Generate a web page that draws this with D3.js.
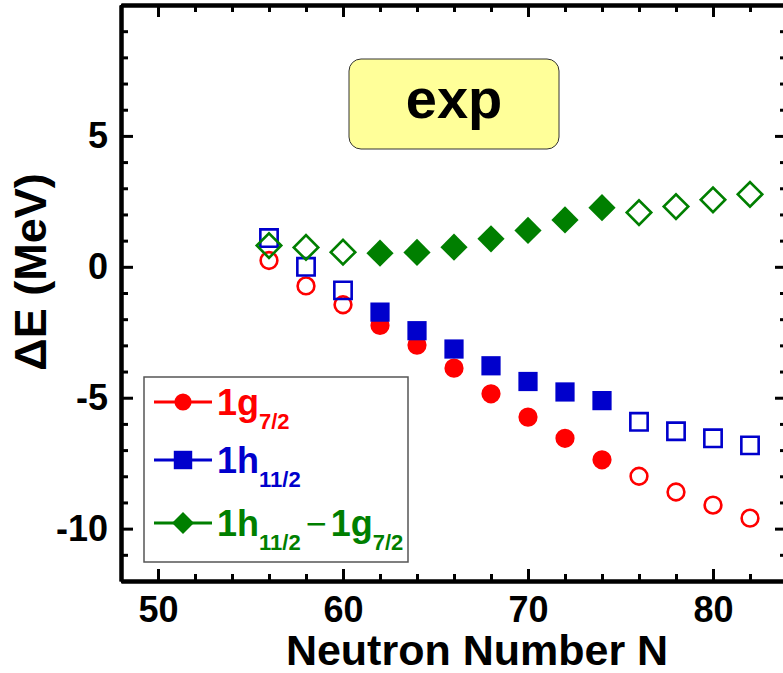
<!DOCTYPE html>
<html>
<head>
<meta charset="utf-8">
<script src="https://cdn.jsdelivr.net/npm/d3@7"></script>
<style>
  body { margin: 0; background: #fff; }
  text { font-family: "Liberation Sans", Arial, sans-serif; font-weight: bold; }
</style>
</head>
<body>
<svg width="783" height="673"></svg>
<script>
// neutron numbers and level energies (MeV)
var neutrons = [56, 58, 60, 62, 64, 66, 68, 70, 72, 74, 76, 78, 80, 82];
var g72  = [0.24, -0.73, -1.45, -2.24, -2.99, -3.87, -4.85, -5.74, -6.55, -7.37, -8.0, -8.6, -9.1, -9.6];
var h112 = [1.1, 0.0, -0.9, -1.73, -2.44, -3.14, -3.78, -4.38, -4.78, -5.11, -5.92, -6.28, -6.55, -6.82];
var diff = [0.81, 0.74, 0.56, 0.52, 0.55, 0.75, 1.07, 1.39, 1.79, 2.26, 2.07, 2.3, 2.56, 2.77];
// measured points are filled, others open
var filled = [false, false, false, true, true, true, true, true, true, true, false, false, false, false];

var xMajor = [50, 60, 70, 80];
var xMinor = [48, 52, 54, 56, 58, 62, 64, 66, 68, 72, 74, 76, 78, 82, 84];
var yMajor = [-10, -5, 0, 5];
var yMinor = [-12, -11, -9, -8, -7, -6, -4, -3, -2, -1, 1, 2, 3, 4, 6, 7, 8, 9, 10];

var svg = d3.select("svg");
var pLeft = 121, pRight = 787, pTop = 5, pBottom = 581;

var x = d3.scaleLinear().domain([48, 84]).range([pLeft, pRight]);
var y = d3.scaleLinear().domain([-12, 10]).range([pBottom, pTop]);

function fmt(d) { return String(d); }

function styleAxis(sel, showLabels) {
    sel.select(".domain").attr("stroke-width", 4).attr("stroke", "#000");
    sel.selectAll(".tick line").attr("stroke-width", 3).attr("stroke", "#000");
    sel.selectAll(".tick text")
       .attr("font-size", "36px")
       .attr("fill", "#000")
       .style("display", showLabels ? null : "none");
}

// bottom
svg.append("g").attr("transform", "translate(0," + pBottom + ")")
   .call(d3.axisBottom(x).tickValues(xMajor).tickSize(-12).tickSizeOuter(0).tickPadding(15).tickFormat(fmt))
   .call(styleAxis, true);
svg.append("g").attr("transform", "translate(0," + pBottom + ")")
   .call(d3.axisBottom(x).tickValues(xMinor).tickSize(-7).tickSizeOuter(0).tickFormat(""))
   .call(styleAxis, false);
// top
svg.append("g").attr("transform", "translate(0," + pTop + ")")
   .call(d3.axisTop(x).tickValues(xMajor).tickSize(-12).tickSizeOuter(0).tickFormat(""))
   .call(styleAxis, false);
svg.append("g").attr("transform", "translate(0," + pTop + ")")
   .call(d3.axisTop(x).tickValues(xMinor).tickSize(-7).tickSizeOuter(0).tickFormat(""))
   .call(styleAxis, false);
// left
svg.append("g").attr("transform", "translate(" + pLeft + ",0)")
   .call(d3.axisLeft(y).tickValues(yMajor).tickSize(-12).tickSizeOuter(0).tickPadding(13).tickFormat(fmt))
   .call(styleAxis, true);
svg.append("g").attr("transform", "translate(" + pLeft + ",0)")
   .call(d3.axisLeft(y).tickValues(yMinor).tickSize(-7).tickSizeOuter(0).tickFormat(""))
   .call(styleAxis, false);
// right
svg.append("g").attr("transform", "translate(" + pRight + ",0)")
   .call(d3.axisRight(y).tickValues(yMajor).tickSize(-12).tickSizeOuter(0).tickFormat(""))
   .call(styleAxis, false);
svg.append("g").attr("transform", "translate(" + pRight + ",0)")
   .call(d3.axisRight(y).tickValues(yMinor).tickSize(-7).tickSizeOuter(0).tickFormat(""))
   .call(styleAxis, false);

// axis titles
svg.append("text")
   .attr("x", 477).attr("y", 665)
   .attr("text-anchor", "middle")
   .attr("font-size", "43px")
   .text("Neutron Number N");

svg.append("text")
   .attr("transform", "translate(46,272) rotate(-90)")
   .attr("text-anchor", "middle")
   .attr("font-size", "45px")
   .text("ΔE (MeV)");

// exp label
svg.append("rect")
   .attr("x", 349).attr("y", 59).attr("width", 210).attr("height", 90)
   .attr("rx", 12).attr("ry", 12)
   .attr("fill", "#ffff99").attr("stroke", "#333").attr("stroke-width", 1);
svg.append("text")
   .attr("x", 454).attr("y", 118)
   .attr("text-anchor", "middle")
   .attr("font-size", "56px")
   .text("exp");

// series
var series = [
    { name: "g", values: g72,  color: "#ff0000", shape: "circle" },
    { name: "h", values: h112, color: "#0000cc", shape: "square" },
    { name: "d", values: diff, color: "#007f00", shape: "diamond" }
];

function symbolPath(shape, isFilled) {
    if (shape == "circle") return d3.symbol(d3.symbolCircle, isFilled ? 290 : 220)();
    return d3.symbol(d3.symbolSquare, isFilled ? 370 : 300)();
}

series.forEach(function(s) {
    svg.append("g").selectAll("path")
       .data(neutrons.map(function(n, i) { return { n: n, v: s.values[i], f: filled[i] }; }))
       .enter().append("path")
       .attr("d", function(d) { return symbolPath(s.shape, d.f); })
       .attr("transform", function(d) {
           return "translate(" + x(d.n) + "," + y(d.v) + ")" + (s.shape == "diamond" ? " rotate(45)" : "");
       })
       .attr("fill", function(d) { return d.f ? s.color : "none"; })
       .attr("stroke", function(d) { return d.f ? "none" : s.color; })
       .attr("stroke-width", 2.6);
});

// legend
var legend = svg.append("g");
legend.append("rect")
   .attr("x", 144).attr("y", 377).attr("width", 264).attr("height", 185)
   .attr("fill", "#fff").attr("stroke", "#555").attr("stroke-width", 1.5);

var rows = [
    { y: 402, color: "#ff0000", shape: "circle",  parts: [["1g", 0], ["7/2", 1]] },
    { y: 460, color: "#0000cc", shape: "square",  parts: [["1h", 0], ["11/2", 1]] },
    { y: 523, color: "#007f00", shape: "diamond", parts: [["1h", 0], ["11/2", 1], ["\u2212", 0], ["1g", 0], ["7/2", 1]] }
];

rows.forEach(function(r) {
    legend.append("line")
       .attr("x1", 154).attr("x2", 212).attr("y1", r.y).attr("y2", r.y)
       .attr("stroke", r.color).attr("stroke-width", 3);
    legend.append("path")
       .attr("d", r.shape == "circle" ? d3.symbol(d3.symbolCircle, 230)() : d3.symbol(d3.symbolSquare, r.shape == "square" ? 340 : 240)())
       .attr("transform", "translate(183," + r.y + ")" + (r.shape == "diamond" ? " rotate(45)" : ""))
       .attr("fill", r.color);
    var t = legend.append("text")
       .attr("x", 217).attr("y", r.y + 13)
       .attr("fill", r.color)
       .attr("font-size", "36px");
    var low = false;
    r.parts.forEach(function(p) {
        var dy = 0;
        if (p[1] && !low) { dy = 14; low = true; }
        else if (!p[1] && low) { dy = -14; low = false; }
        var isMinus = p[0] == "\u2212";
        t.append("tspan")
         .attr("dy", dy)
         .attr("dx", isMinus ? 5 : (p[0] == "1g" && r.parts.length > 2 ? 4 : 0))
         .attr("font-size", p[1] ? "22px" : "36px")
         .attr("font-weight", isMinus ? "normal" : "bold")
         .text(p[0]);
    });
});
</script>
</body>
</html>
